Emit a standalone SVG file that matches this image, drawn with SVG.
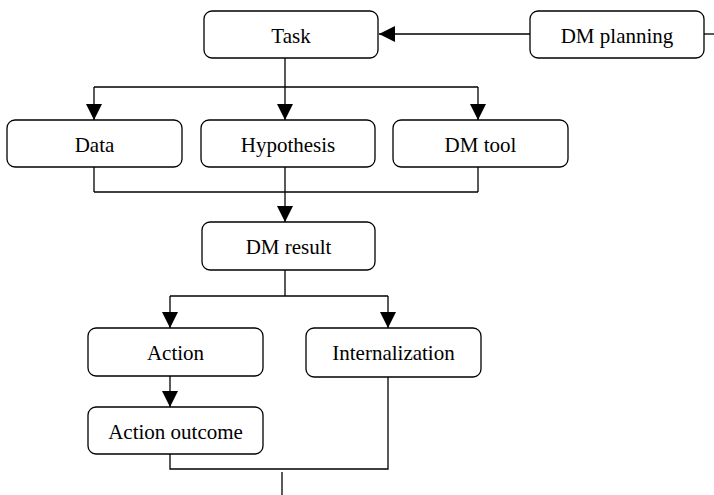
<svg xmlns="http://www.w3.org/2000/svg" width="714" height="495" viewBox="0 0 714 495">
<style>
.box{fill:#fff;stroke:#000;stroke-width:1.3}
.lbl{font-family:"Liberation Serif","Times New Roman",serif;font-size:21px;fill:#000;text-anchor:middle}
.ln{fill:none;stroke:#000;stroke-width:1.3}
</style>
<defs>
<marker id="ah" markerUnits="userSpaceOnUse" markerWidth="16" markerHeight="16" refX="16" refY="8" orient="auto">
<path d="M0,0 L16,8 L0,16 z" fill="#000"/>
</marker>
</defs>
<rect width="714" height="495" fill="#fff"/>
<g id="connectors">
<line class="ln" x1="530" y1="34" x2="379" y2="34" marker-end="url(#ah)"/>
<line class="ln" x1="704" y1="34" x2="714" y2="34"/>
<line class="ln" x1="285" y1="58" x2="285" y2="87"/>
<line class="ln" x1="94" y1="87" x2="478" y2="87"/>
<line class="ln" x1="94" y1="87" x2="94" y2="120" marker-end="url(#ah)"/>
<line class="ln" x1="285" y1="87" x2="285" y2="120" marker-end="url(#ah)"/>
<line class="ln" x1="478" y1="87" x2="478" y2="120" marker-end="url(#ah)"/>
<line class="ln" x1="94" y1="167" x2="94" y2="192"/>
<line class="ln" x1="478" y1="167" x2="478" y2="192"/>
<line class="ln" x1="94" y1="192" x2="478" y2="192"/>
<line class="ln" x1="285" y1="167" x2="285" y2="222" marker-end="url(#ah)"/>
<line class="ln" x1="285" y1="270" x2="285" y2="296"/>
<line class="ln" x1="170" y1="296" x2="388" y2="296"/>
<line class="ln" x1="170" y1="296" x2="170" y2="328" marker-end="url(#ah)"/>
<line class="ln" x1="388" y1="296" x2="388" y2="328" marker-end="url(#ah)"/>
<line class="ln" x1="170" y1="376" x2="170" y2="407" marker-end="url(#ah)"/>
<polyline class="ln" points="170,454 170,469 388,469 388,377"/>
<line class="ln" x1="282" y1="472" x2="282" y2="495"/>
</g>
<g id="task"><rect class="box" x="204" y="11" width="174" height="47" rx="8"/><text class="lbl" x="291" y="42.5">Task</text></g>
<g id="dm-planning"><rect class="box" x="530" y="11" width="174" height="47" rx="8"/><text class="lbl" x="617" y="42.5">DM planning</text></g>
<g id="data"><rect class="box" x="7" y="120" width="175" height="47" rx="8"/><text class="lbl" x="94.5" y="152">Data</text></g>
<g id="hypothesis"><rect class="box" x="201" y="120" width="174" height="47" rx="8"/><text class="lbl" x="288" y="152">Hypothesis</text></g>
<g id="dm-tool"><rect class="box" x="393" y="120" width="175" height="47" rx="8"/><text class="lbl" x="480.5" y="152">DM tool</text></g>
<g id="dm-result"><rect class="box" x="202" y="222" width="173" height="48" rx="8"/><text class="lbl" x="288.5" y="254">DM result</text></g>
<g id="action"><rect class="box" x="88" y="328" width="175" height="48" rx="8"/><text class="lbl" x="175.5" y="360">Action</text></g>
<g id="internalization"><rect class="box" x="306" y="328" width="175" height="49" rx="8"/><text class="lbl" x="393.5" y="360">Internalization</text></g>
<g id="action-outcome"><rect class="box" x="88" y="407" width="175" height="47" rx="8"/><text class="lbl" x="175.5" y="439">Action outcome</text></g>
</svg>
